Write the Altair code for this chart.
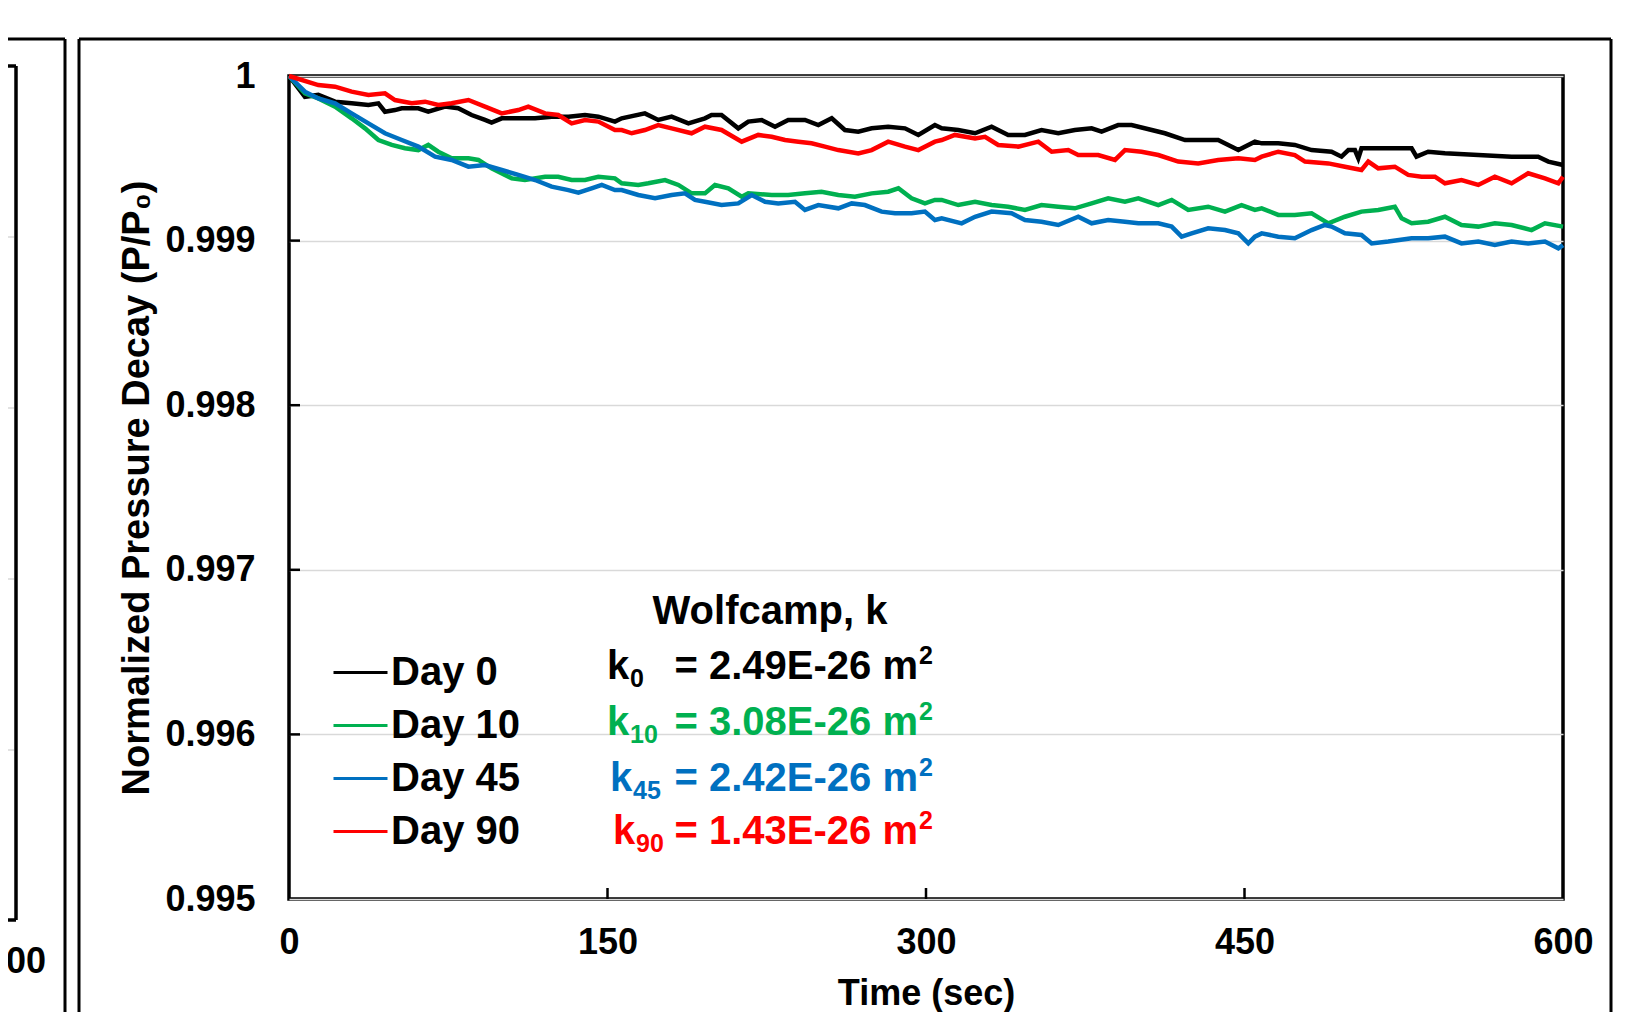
import altair as alt
import pandas as pd

# ---------------- data ----------------
days = ["Day 0", "Day 10", "Day 45", "Day 90"]
colors = ["#000000", "#00B050", "#0070C0", "#FF0000"]
k_subs = ["0", "10", "45", "90"]
k_values = ["= 2.49E-26 m", "= 3.08E-26 m", "= 2.42E-26 m", "= 1.43E-26 m"]
x_ticks = [0, 150, 300, 450, 600]
y_ticks = [0.995, 0.996, 0.997, 0.998, 0.999, 1.0]

t_day0 = [0, 7.5, 13.8, 21.7, 29.5, 37.4, 42.1, 45.2, 49.9, 53.1, 60.9, 65.6, 73.5, 79.7, 86.0, 92.3, 95.4,
          100.2, 108.0, 115.9, 123.7, 131.6, 139.4, 145.7, 153.5, 156.7, 167.6, 173.9, 180.2, 188.1, 195.9,
          199.0, 203.7, 211.6, 216.3, 222.6, 228.9, 235.1, 243.0, 249.3, 255.6, 261.8, 268.1, 274.4, 282.2,
          290.1, 296.4, 304.2, 307.4, 315.2, 323.1, 330.9, 338.7, 346.6, 354.4, 362.3, 370.1, 378.0, 382.7,
          390.5, 396.8, 406.3, 412.5, 422.0, 429.8, 437.6, 447.1, 454.9, 458.1, 465.9, 473.7, 481.6, 491.0,
          495.7, 498.9, 502.0, 503.6, 505.1, 528.7, 531.0, 536.5, 544.4, 560.1, 575.8, 588.3, 593.1, 600]
p_day0 = [1.0, 0.999874, 0.999885, 0.999844, 0.999834, 0.999824, 0.999834, 0.999783, 0.999793, 0.999804,
          0.999804, 0.999783, 0.999814, 0.999804, 0.999763, 0.999733, 0.999717, 0.999743, 0.999743, 0.999743,
          0.999753, 0.999753, 0.999763, 0.999753, 0.999723, 0.999743, 0.999773, 0.999733, 0.999753, 0.999712,
          0.999743, 0.999763, 0.999763, 0.999682, 0.999723, 0.999733, 0.999692, 0.999733, 0.999733, 0.999702,
          0.999743, 0.999672, 0.999662, 0.999682, 0.999692, 0.999682, 0.999642, 0.999702, 0.999682, 0.999672,
          0.999652, 0.999692, 0.999642, 0.999642, 0.999672, 0.999652, 0.999672, 0.999682, 0.999662, 0.999702,
          0.999702, 0.999672, 0.999652, 0.999611, 0.999611, 0.999611, 0.999550, 0.999601, 0.999591, 0.999591,
          0.999581, 0.999550, 0.999540, 0.999510, 0.999550, 0.999550, 0.999500, 0.999561, 0.999561, 0.999510,
          0.999540, 0.999530, 0.999520, 0.999510, 0.999510, 0.999480, 0.999459]

t_day10 = [0, 7.5, 13.8, 21.7, 29.5, 35.8, 42.1, 48.4, 54.6, 60.9, 65.6, 70.3, 76.6, 84.5, 89.2, 95.4, 104.9,
           111.1, 120.6, 126.8, 133.1, 139.4, 145.7, 153.5, 156.7, 164.5, 169.2, 177.1, 183.4, 189.6, 195.9,
           200.6, 206.9, 213.2, 216.3, 227.3, 235.1, 243.0, 250.8, 258.7, 266.5, 274.4, 282.2, 287.0, 293.2,
           299.5, 304.2, 307.4, 315.2, 323.1, 330.9, 338.7, 346.6, 354.4, 362.3, 370.1, 378.0, 385.8, 393.7,
           400.0, 409.4, 415.7, 423.5, 432.9, 440.8, 448.6, 454.9, 458.1, 465.9, 473.7, 481.6, 489.5, 497.3,
           505.1, 513.0, 520.8, 524.0, 528.7, 536.5, 544.4, 552.2, 560.1, 567.9, 575.8, 585.2, 591.5, 600]
p_day10 = [1.0, 0.999895, 0.999864, 0.999814, 0.999743, 0.999682, 0.999611, 0.999581, 0.999561, 0.999550,
           0.999581, 0.999540, 0.999500, 0.999500, 0.999490, 0.999439, 0.999378, 0.999368, 0.999388, 0.999388,
           0.999368, 0.999368, 0.999388, 0.999378, 0.999348, 0.999338, 0.999348, 0.999368, 0.999338, 0.999287,
           0.999287, 0.999338, 0.999318, 0.999267, 0.999287, 0.999277, 0.999277, 0.999287, 0.999297, 0.999277,
           0.999267, 0.999287, 0.999297, 0.999318, 0.999257, 0.999226, 0.999247, 0.999247, 0.999216, 0.999236,
           0.999216, 0.999206, 0.999186, 0.999216, 0.999206, 0.999196, 0.999226, 0.999257, 0.999236, 0.999257,
           0.999216, 0.999247, 0.999186, 0.999206, 0.999176, 0.999216, 0.999186, 0.999196, 0.999156, 0.999156,
           0.999166, 0.999105, 0.999145, 0.999176, 0.999186, 0.999206, 0.999135, 0.999105, 0.999115, 0.999145,
           0.999095, 0.999085, 0.999105, 0.999095, 0.999064, 0.999105, 0.999085]

t_day45 = [0, 7.5, 13.8, 21.7, 29.5, 37.4, 45.2, 53.1, 60.9, 68.8, 76.6, 84.5, 92.3, 100.2, 108.0, 115.9,
           123.7, 131.6, 136.3, 142.5, 147.3, 153.5, 156.7, 164.5, 172.4, 180.2, 186.5, 191.2, 195.9, 203.7,
           211.6, 217.9, 224.2, 230.4, 238.3, 243.0, 249.3, 258.7, 265.0, 271.2, 279.1, 285.4, 293.2, 299.5,
           304.2, 307.4, 316.8, 323.1, 330.9, 340.3, 346.6, 354.4, 362.3, 371.7, 378.0, 385.8, 393.7, 400.0,
           409.4, 415.7, 420.4, 425.1, 432.9, 440.8, 447.1, 451.8, 454.9, 458.1, 465.9, 473.7, 481.6, 487.9,
           491.0, 497.3, 505.1, 509.9, 517.7, 528.7, 536.5, 544.4, 552.2, 560.1, 567.9, 575.8, 583.6, 591.5,
           597.8, 600]
p_day45 = [1.0, 0.999905, 0.999864, 0.999834, 0.999773, 0.999712, 0.999652, 0.999611, 0.999571, 0.999510,
           0.999490, 0.999449, 0.999459, 0.999429, 0.999399, 0.999368, 0.999328, 0.999307, 0.999291, 0.999318,
           0.999338, 0.999307, 0.999307, 0.999277, 0.999257, 0.999277, 0.999287, 0.999247, 0.999236, 0.999216,
           0.999226, 0.999277, 0.999236, 0.999226, 0.999236, 0.999186, 0.999216, 0.999196, 0.999226, 0.999216,
           0.999176, 0.999166, 0.999166, 0.999176, 0.999125, 0.999135, 0.999105, 0.999145, 0.999176, 0.999166,
           0.999125, 0.999115, 0.999095, 0.999145, 0.999105, 0.999125, 0.999115, 0.999105, 0.999105, 0.999085,
           0.999024, 0.999044, 0.999075, 0.999064, 0.999044, 0.998983, 0.999024, 0.999044, 0.999024, 0.999014,
           0.999064, 0.999095, 0.999085, 0.999044, 0.999034, 0.998983, 0.998994, 0.999014, 0.999014, 0.999024,
           0.998983, 0.998994, 0.998973, 0.998994, 0.998983, 0.998994, 0.998953, 0.998973]

t_day90 = [0, 13.8, 21.7, 29.5, 37.4, 45.2, 49.9, 57.8, 64.1, 70.3, 76.6, 84.5, 92.3, 100.2, 108.0, 112.7,
           120.6, 126.8, 133.1, 139.4, 145.7, 153.5, 156.7, 161.4, 167.6, 173.9, 180.2, 189.6, 195.9, 203.7,
           213.2, 221.0, 227.3, 233.6, 239.9, 246.1, 252.4, 258.7, 268.1, 274.4, 282.2, 290.1, 296.4, 304.2,
           307.4, 313.6, 323.1, 327.8, 334.0, 343.5, 352.9, 359.2, 367.0, 371.7, 381.1, 389.0, 393.7, 401.5,
           409.4, 418.8, 428.2, 437.6, 447.1, 454.9, 458.1, 465.9, 473.7, 478.5, 489.5, 497.3, 505.1, 508.3,
           513.0, 520.8, 527.1, 533.4, 539.7, 544.4, 552.2, 560.1, 567.9, 575.8, 583.6, 591.5, 597.8, 600]
p_day90 = [1.0, 0.999945, 0.999935, 0.999905, 0.999885, 0.999895, 0.999854, 0.999834, 0.999844, 0.999824,
           0.999834, 0.999854, 0.999814, 0.999773, 0.999793, 0.999814, 0.999773, 0.999763, 0.999712, 0.999733,
           0.999723, 0.999672, 0.999672, 0.999652, 0.999672, 0.999702, 0.999682, 0.999652, 0.999692, 0.999672,
           0.999601, 0.999642, 0.999631, 0.999611, 0.999601, 0.999591, 0.999571, 0.999550, 0.999530, 0.999550,
           0.999601, 0.999571, 0.999550, 0.999601, 0.999611, 0.999642, 0.999621, 0.999631, 0.999581, 0.999571,
           0.999601, 0.999540, 0.999550, 0.999520, 0.999520, 0.999490, 0.999550, 0.999540, 0.999520, 0.999480,
           0.999469, 0.999490, 0.999500, 0.999490, 0.999510, 0.999540, 0.999520, 0.999480, 0.999469, 0.999449,
           0.999429, 0.999480, 0.999439, 0.999449, 0.999399, 0.999388, 0.999388, 0.999348, 0.999368, 0.999338,
           0.999388, 0.999348, 0.999409, 0.999378, 0.999348, 0.999388]

series_t = [t_day0, t_day10, t_day45, t_day90]
series_p = [p_day0, p_day10, p_day45, p_day90]

rows = []
for name, ts, ps in zip(days, series_t, series_p):
    for t, p in zip(ts, ps):
        rows.append({"series": name, "t": t, "p": p})
df = pd.DataFrame(rows)

# ---------------- layout ----------------
W, H = 1274, 823
FONT = "Liberation Sans"
one = pd.DataFrame({"d": [0]})

xscale = alt.Scale(domain=[0, 600], nice=False, zero=False)
yscale = alt.Scale(domain=[0.995, 1.0], nice=False, zero=False)

lines = alt.Chart(df).mark_line(strokeWidth=4.5).encode(
    x=alt.X("t:Q", scale=xscale,
            axis=alt.Axis(values=x_ticks, title="Time (sec)", grid=False, domain=False, ticks=False,
                          labelFlush=False, labelOverlap=False,
                          labelPadding=26, titlePadding=16, labelFontSize=36, titleFontSize=36)),
    y=alt.Y("p:Q", scale=yscale,
            axis=alt.Axis(values=y_ticks, title="Normalized Pressure Decay (P/P₀)", grid=True,
                          gridColor="#D9D9D9", gridWidth=1.5, domain=False, ticks=False,
                          labelFlush=False, labelOverlap=False,
                          labelExpr="datum.value >= 0.9999 ? '1' : format(datum.value, '.3f')",
                          labelPadding=34, titlePadding=8, labelFontSize=36, titleFontSize=38)),
    color=alt.Color("series:N", scale=alt.Scale(domain=days, range=colors),
                    legend=alt.Legend(orient="none", legendX=43, legendY=568, title=None,
                                      symbolType="stroke", symbolSize=2916, symbolStrokeWidth=3,
                                      labelFontSize=40, labelFont=FONT, labelFontWeight="bold",
                                      labelColor="black", labelOffset=2, rowPadding=4, padding=0)),
)

xtick_df = pd.DataFrame({"t": x_ticks[1:-1]})
ytick_df = pd.DataFrame({"p": y_ticks[1:-1]})
xtk = alt.Chart(xtick_df).mark_rule(color="black", strokeWidth=2.5).encode(
    x=alt.X("t:Q", scale=xscale), y=alt.value(H), y2=alt.value(H - 11))
ytk = alt.Chart(ytick_df).mark_rule(color="black", strokeWidth=2.5).encode(
    y=alt.Y("p:Q", scale=yscale), x=alt.value(0), x2=alt.value(11))


def seg(x1, y1, x2, y2, w=3):
    return alt.Chart(one).mark_rule(color="black", strokeWidth=w).encode(
        x=alt.value(x1), y=alt.value(y1), x2=alt.value(x2), y2=alt.value(y2))


def label(text, x, y, color="black", size=40, align="center"):
    return alt.Chart(one).mark_text(text=text, font=FONT, fontWeight="bold", fontSize=size,
                                    color=color, align=align, baseline="middle").encode(
        x=alt.value(x), y=alt.value(y))


# decorative panel frames (outer figure panel and neighbouring panel edge)
deco = [
    seg(-210, -37, 1322, -37), seg(-210, -37, -210, 960), seg(1322, -37, 1322, 960),
    seg(-290, -37, -224, -37), seg(-224, -37, -224, 960),
    seg(-290, -10, -273, -10, 3.5), seg(-273, -10, -273, 844, 3.5), seg(-290, 844, -273, 844, 3.5),
]
for gy in [161, 332, 503, 674]:
    deco.append(alt.Chart(one).mark_rule(color="#D9D9D9", strokeWidth=1.5).encode(
        x=alt.value(-290), x2=alt.value(-275), y=alt.value(gy), y2=alt.value(gy)))
deco.append(label("600", -273, 886, size=36))

# annotation block
texts = [label("Wolfcamp, k", 481, 536)]
k_rows = [591, 647, 703, 756]
k_left = [318, 318, 321, 324]
for sub, val, col, yy, kx in zip(k_subs, k_values, colors, k_rows, k_left):
    texts.append(label("k", kx, yy, color=col, align="left"))
    texts.append(label(sub, kx + 23, yy + 12, color=col, size=25, align="left"))
    texts.append(label(val, 629, yy, color=col, align="right"))
    texts.append(label("2", 630, yy - 11, color=col, size=25, align="left"))

chart = alt.layer(*deco, lines, xtk, ytk, *texts).properties(
    width=W, height=H,
    autosize=alt.AutoSizeParams(type="none"),
    padding={"left": 281, "top": 68, "right": 55, "bottom": 113},
).configure_view(stroke="black", strokeWidth=3.5).configure_axis(
    labelFont=FONT, titleFont=FONT, labelFontWeight="bold", titleFontWeight="bold",
    labelColor="black", titleColor="black",
)

chart.save("out.html", embed_options={"renderer": "svg", "actions": False})
